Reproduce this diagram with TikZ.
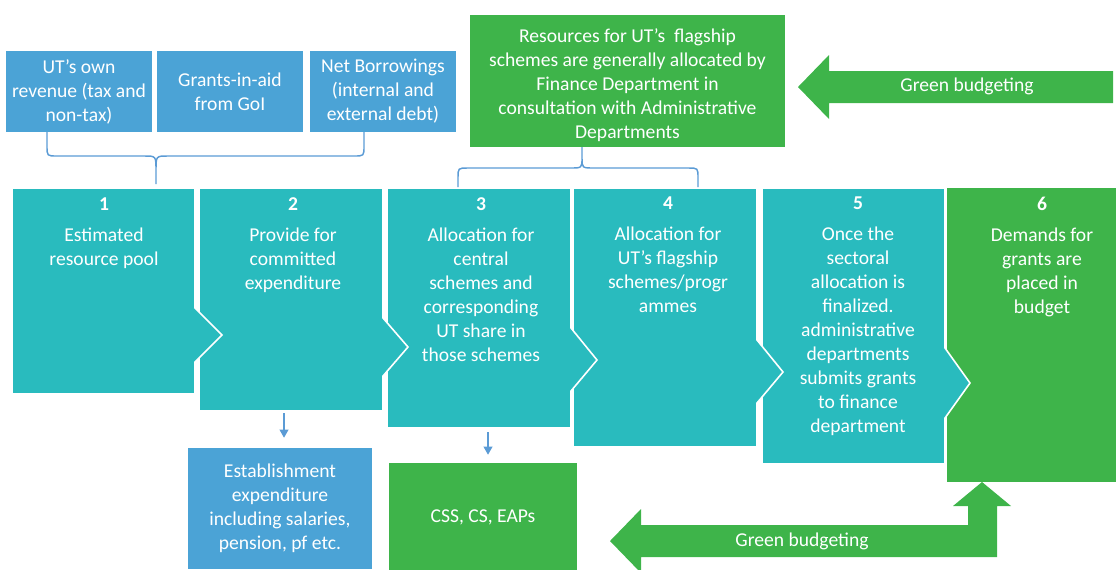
\documentclass[tikz,border=0pt]{standalone}
\usepackage{fontspec}
\setmainfont{Carlito}
\usepackage{tikz}
\usetikzlibrary{positioning, arrows.meta}
\definecolor{stepteal}{RGB}{41,187,190}
\definecolor{stepgreen}{RGB}{62,180,74}
\definecolor{srcblue}{RGB}{75,163,214}
\definecolor{linkblue}{RGB}{91,155,213}
\tikzset{
  txt/.style={text=white, align=center, inner sep=0pt, font=\fontsize{14.7}{18}\selectfont},
  src/.style={txt, fill=srcblue, minimum width=109.5pt, minimum height=60.75pt},
  chev/.style={draw=white, line width=1.2pt},
  brace/.style={draw=linkblue, line width=1.1pt},
  flow/.style={-{Triangle[width=6.5pt,length=6pt]}, draw=linkblue, line width=1.1pt},
}

\begin{document}
\begin{tikzpicture}[x=0.75pt, y=-0.75pt]
  \useasboundingbox (0,0) rectangle (1116,569);
  % steps, right to left so each point lies on the next box
  \fill[stepgreen] (947,188) rectangle (1135,482);
  \filldraw[chev, fill=stepteal] (762,188) -- (945,188) -- (945,348) -- (970,383) -- (945,418) -- (945,464) -- (762,464) -- cycle;
  \filldraw[chev, fill=stepteal] (573,188) -- (757,188) -- (757,340) -- (783,372) -- (757,403) -- (757,447) -- (573,447) -- cycle;
  \filldraw[chev, fill=stepteal] (387,188) -- (571,188) -- (571,328) -- (597,360) -- (571,391) -- (571,428) -- (387,428) -- cycle;
  \filldraw[chev, fill=stepteal] (199,188) -- (383,188) -- (383,318) -- (408,347) -- (383,376) -- (383,411) -- (199,411) -- cycle;
  \filldraw[chev, fill=stepteal] (12,188) -- (195,188) -- (195,308) -- (222,335) -- (195,362) -- (195,394) -- (12,394) -- cycle;
  \coordinate (c2) at (284,411);
  \coordinate (c3) at (488,428);

  \node[txt, anchor=north] (t1) at (104,197) {\textbf{1}\\[5.25pt]Estimated\\resource pool};
  \node[txt, anchor=north] (t2) at (293,197) {\textbf{2}\\[5.25pt]Provide for\\committed\\expenditure};
  \node[txt, anchor=north] (t3) at (481,197) {\textbf{3}\\[5.25pt]Allocation for\\central\\schemes and\\corresponding\\UT share in\\those schemes};
  \node[txt, anchor=north] (t4) at (668,197) {\textbf{4}\\[5.25pt]Allocation for\\UT's flagship\\schemes/progr\\ammes};
  \node[txt, anchor=north] (t5) at (858,197) {\textbf{5}\\[5.25pt]Once the\\sectoral\\allocation is\\finalized.\\administrative\\departments\\submits grants\\to finance\\department};
  \node[txt, anchor=north] (t6) at (1042,197) {\textbf{6}\\[5.25pt]Demands for\\grants are\\placed in\\budget};

  \node[src] (own) at (79,91.5) {UT's own\\revenue (tax and\\non-tax)};
  \node[src] (gia) at (230,91.5) {Grants-in-aid\\from GoI};
  \node[src] (borrow) at (383,91.5) {Net Borrowings\\(internal and\\external debt)};
  \draw[brace] (47,132) -- (47,146) .. controls (47,156) .. (57,156) -- (144,156) .. controls (156,156) .. (156,170) -- (156,184) -- (156,170) .. controls (156,156) .. (168,156) -- (354,156) .. controls (364,156) .. (364,146) -- (364,132);

  \node[fill=stepgreen, minimum width=236.25pt, minimum height=99pt] (res) at (627.5,81) {};
  \node[txt] (restext) at ([yshift=-3pt]res.center) {Resources for UT's\ \ flagship\\schemes are generally allocated by\\Finance Department in\\consultation with Administrative\\Departments};
  \draw[brace] (458,187) -- (458,178) .. controls (458,168) .. (468,168) -- (570,168) .. controls (582,168) .. (582,158) -- (582,147) -- (582,158) .. controls (582,168) .. (594,168) -- (688,168) .. controls (698,168) .. (698,178) -- (698,187);

  \fill[stepgreen] (798,87) -- (829,55) -- (829,71) -- (1113,71) -- (1113,103) -- (829,103) -- (829,119) -- cycle;
  \node[txt] (gbtop) at (967,86) {Green budgeting};

  \node[txt, fill=srcblue, minimum width=138pt, minimum height=90.75pt] (est) at (280,508.5) {Establishment\\expenditure\\including salaries,\\pension, pf etc.};
  \node[txt, fill=stepgreen, minimum width=141pt, minimum height=81pt] (css) at (483,517) {CSS, CS, EAPs};
  \draw[flow, shorten <=1.5pt, shorten >=7.5pt] (c2) -- (c2 |- est.north);
  \draw[flow, shorten <=3pt, shorten >=6pt] (c3) -- (c3 |- css.north);

  \fill[stepgreen] (610,541) -- (641,509) -- (641,525) -- (968,525) -- (968,506) -- (953,506) -- (982,482) -- (1011,506) -- (997,506) -- (997,557) -- (641,557) -- (641,573) -- cycle;
  \node[txt] (gbbot) at (802,541) {Green budgeting};
\end{tikzpicture}
\end{document}
